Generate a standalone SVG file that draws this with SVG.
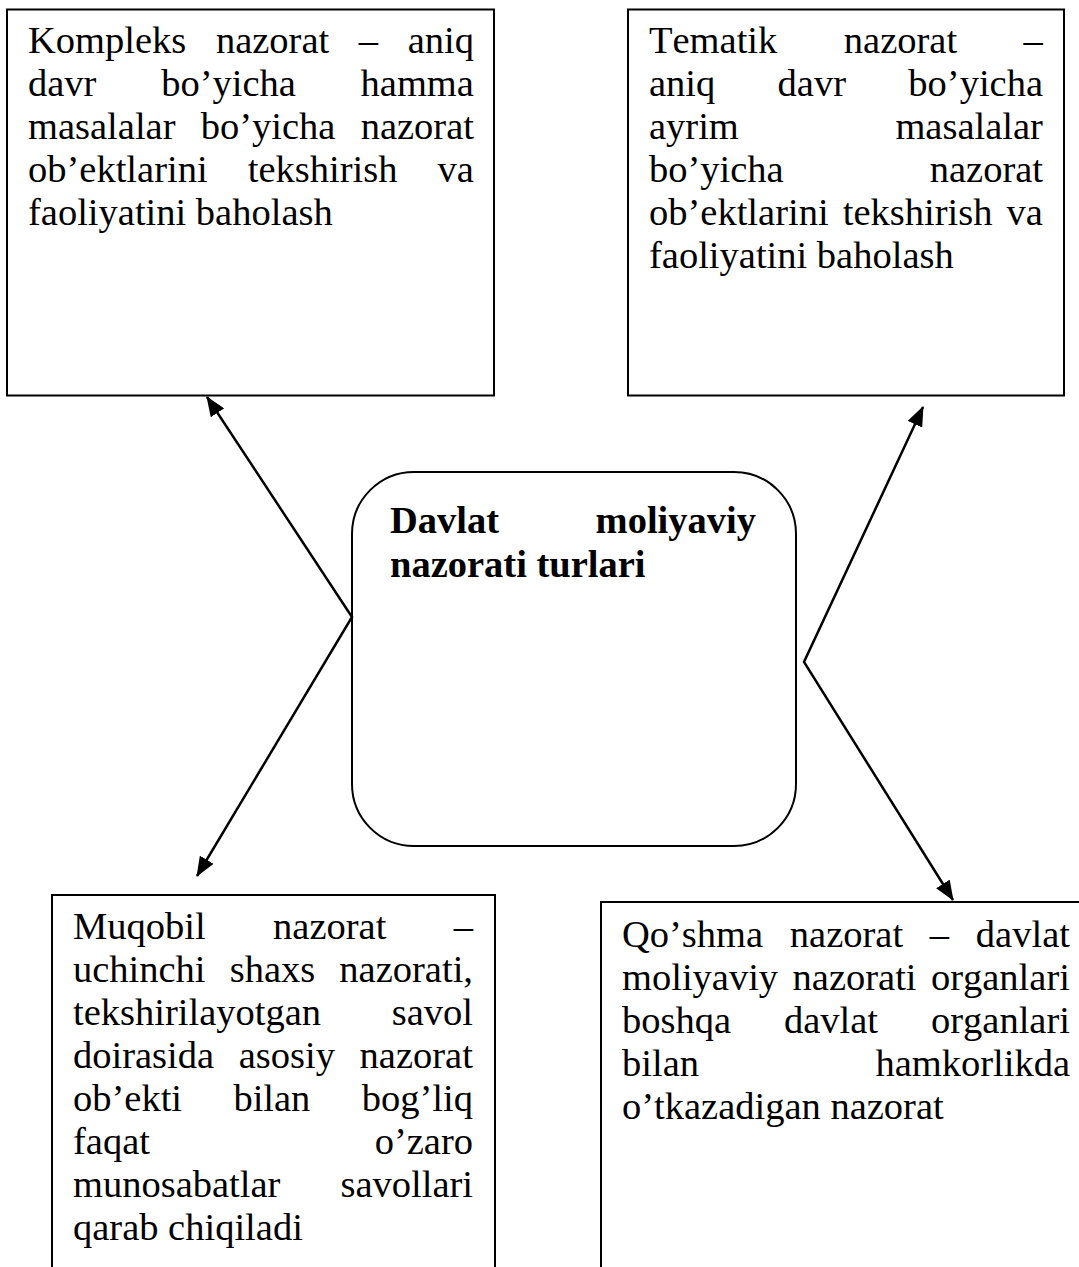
<svg xmlns="http://www.w3.org/2000/svg" width="1079" height="1267" viewBox="0 0 1079 1267">
  <style>
    .box { fill: #ffffff; stroke: #000000; stroke-width: 2; }
    .txt { font-family: "Liberation Serif", "Times New Roman", serif; font-size: 38.5px; fill: #000000; font-kerning: none; }
    .bold { font-weight: bold; }
    .link { fill: none; stroke: #000000; stroke-width: 2.5; stroke-linejoin: miter; marker-start: url(#head); marker-end: url(#head); }
  </style>
  <defs>
    <marker id="head" viewBox="0 0 20 16" refX="19" refY="8" markerWidth="20" markerHeight="16" markerUnits="userSpaceOnUse" orient="auto-start-reverse">
      <path d="M0,0 L20,8 L0,16 z" fill="#000000"/>
    </marker>
  </defs>

  <rect width="1079" height="1267" fill="#ffffff"/>

  <!-- Top left: complex control -->
  <g id="node-kompleks">
    <rect class="box" x="7" y="9.5" width="487" height="386"/>
    <text class="txt" x="28" y="53" word-spacing="20.0">Kompleks nazorat – aniq</text>
    <text class="txt" x="28" y="96" word-spacing="55.1">davr bo’yicha hamma</text>
    <text class="txt" x="28" y="139" word-spacing="15.6">masalalar bo’yicha nazorat</text>
    <text class="txt" x="28" y="182" word-spacing="30.5">ob’ektlarini tekshirish va</text>
    <text class="txt" x="28" y="225">faoliyatini baholash</text>
  </g>

  <!-- Top right: thematic control -->
  <g id="node-tematik">
    <rect class="box" x="628" y="9.5" width="436" height="386"/>
    <text class="txt" x="649" y="53" word-spacing="56.9">Tematik nazorat –</text>
    <text class="txt" x="649" y="96" word-spacing="52.7">aniq davr bo’yicha</text>
    <text class="txt" x="649" y="139" word-spacing="147.0">ayrim masalalar</text>
    <text class="txt" x="649" y="182" word-spacing="136.4">bo’yicha nazorat</text>
    <text class="txt" x="649" y="225" word-spacing="4.5">ob’ektlarini tekshirish va</text>
    <text class="txt" x="649" y="268">faoliyatini baholash</text>
  </g>

  <!-- Centre: types of state financial control -->
  <g id="node-turlari">
    <rect class="box" x="352" y="472" width="444" height="374" rx="62" ry="62"/>
    <text class="txt bold" x="390" y="533" word-spacing="86.9">Davlat moliyaviy</text>
    <text class="txt bold" x="390" y="577">nazorati turlari</text>
  </g>

  <!-- Bottom left: counter control -->
  <g id="node-muqobil">
    <rect class="box" x="52" y="895" width="443" height="400"/>
    <text class="txt" x="73" y="939" word-spacing="57.8">Muqobil nazorat –</text>
    <text class="txt" x="73" y="982" word-spacing="14.5">uchinchi shaxs nazorati,</text>
    <text class="txt" x="73" y="1025" word-spacing="61.0">tekshirilayotgan savol</text>
    <text class="txt" x="73" y="1068" word-spacing="15.0">doirasida asosiy nazorat</text>
    <text class="txt" x="73" y="1111" word-spacing="41.7">ob’ekti bilan bog’liq</text>
    <text class="txt" x="73" y="1154" word-spacing="215.1">faqat o’zaro</text>
    <text class="txt" x="73" y="1197" word-spacing="50.4">munosabatlar savollari</text>
    <text class="txt" x="73" y="1240">qarab chiqiladi</text>
  </g>

  <!-- Bottom right: joint control -->
  <g id="node-qoshma">
    <rect class="box" x="601" y="902" width="500" height="400"/>
    <text class="txt" x="622" y="947" word-spacing="17.1">Qo’shma nazorat – davlat</text>
    <text class="txt" x="622" y="990" word-spacing="4.8">moliyaviy nazorati organlari</text>
    <text class="txt" x="622" y="1033" word-spacing="43.3">boshqa davlat organlari</text>
    <text class="txt" x="622" y="1076" word-spacing="166.8">bilan hamkorlikda</text>
    <text class="txt" x="622" y="1119">o’tkazadigan nazorat</text>
  </g>

  <!-- Connectors: two bent double-headed arrows -->
  <g id="connectors">
    <polyline class="link" points="207,397 352,617 197,876"/>
    <polyline class="link" points="923,407 804,662 953,900"/>
  </g>
</svg>
